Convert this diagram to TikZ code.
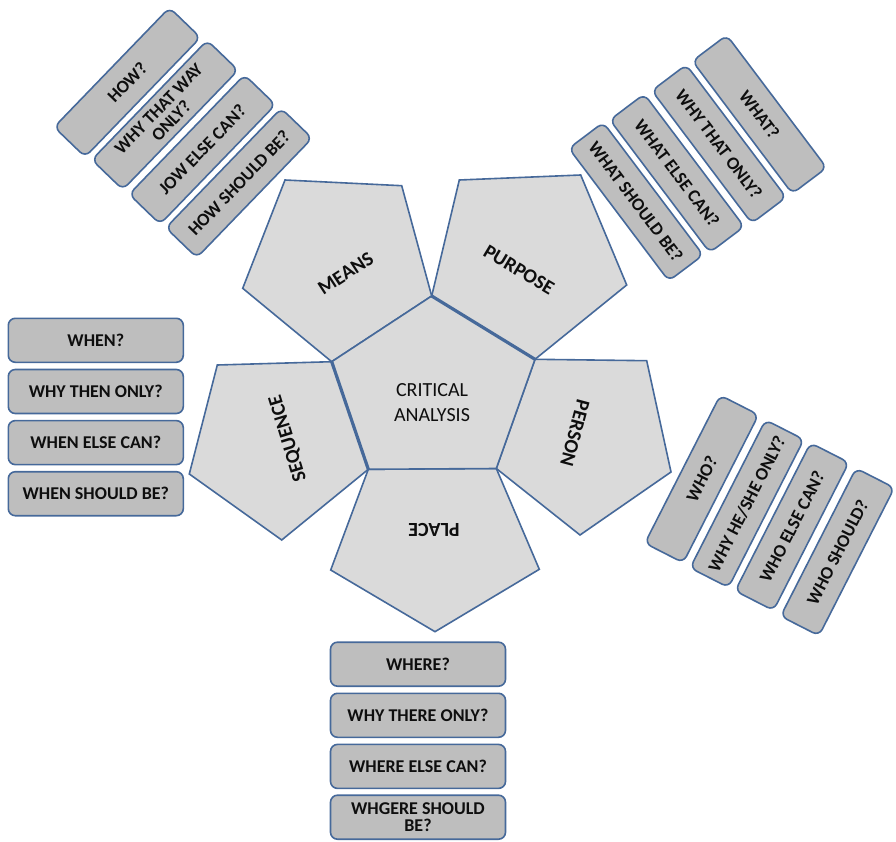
\documentclass[tikz,border=0pt]{standalone}
\usepackage{fontspec}
\setmainfont{Carlito}
\newcommand{\boxfont}{\bfseries\fontsize{18}{17.5}\selectfont}
\newcommand{\facefont}{\bfseries\fontsize{20}{22}\selectfont}
\newcommand{\corefont}{\fontsize{20}{25}\selectfont}
\definecolor{edgeblue}{HTML}{46699A}
\definecolor{boxgray}{HTML}{BEBEBE}
\definecolor{facegray}{HTML}{DADADA}
\definecolor{inkdark}{HTML}{0E0E0E}
\begin{document}
\begin{tikzpicture}[x=1pt,y=-1pt,
  face/.style={draw=edgeblue, fill=facegray, line width=1.6pt, line join=miter},
  facelabel/.style={font=\facefont, text=inkdark, inner sep=0pt},
  qbox/.style={draw=edgeblue, fill=boxgray, line width=1.6pt, rounded corners=7pt,
    inner sep=0pt, align=center, font=\boxfont, text=inkdark},
  hbox/.style={qbox, minimum width=175pt, minimum height=44pt},
  rbox/.style={qbox, minimum width=166pt, minimum height=43pt}]
\useasboundingbox (0,0) rectangle (896,842);

% corners of the central pentagon
\coordinate (c1) at (431.7,296);
\coordinate (c2) at (535,359.3);
\coordinate (c3) at (496.3,468.5);
\coordinate (c4) at (368.3,469.3);
\coordinate (c5) at (331.7,361.7);

% outer pentagons, each sharing one side with the centre
\draw[face] (c5) -- (c1) -- (401.7,185.7) -- (285,180) -- (242.7,288.3) -- cycle;
\draw[face] (c1) -- (459.3,180) -- (580.7,175) -- (626.7,285) -- (c2) -- cycle;
\draw[face] (c2) -- (646.7,360.7) -- (671,472) -- (580,535) -- (c3) -- cycle;
\draw[face] (c3) -- (539.3,569.3) -- (435,631.7) -- (330.7,570) -- (c4) -- cycle;
\draw[face] (c4) -- (281.7,540) -- (189.3,474) -- (217.3,365) -- (c5) -- cycle;
\draw[face] (c1) -- (c2) -- (c3) -- (c4) -- (c5) -- cycle;
% doubled seams
\draw[edgeblue, line width=3.2pt] (c1) -- (c2);
\draw[edgeblue, line width=3.2pt] (c4) -- (c5);

% labels on the faces
\node[font=\corefont, text=inkdark, align=center, inner sep=0pt] (core) at (432,403) {CRITICAL\\ANALYSIS};
\node[facelabel, rotate=33] (means) at (345.7,273.3) {MEANS};
\node[facelabel, rotate=-31] (purpose) at (519,270) {PURPOSE};
\node[facelabel, rotate=-105] (person) at (575,433.3) {PERSON};
\node[facelabel, rotate=180] (place) at (434,530) {PLACE};
\node[facelabel, rotate=107] (sequence) at (288.3,438.3) {SEQUENCE};

% questions about time
\node[hbox] (when1) at (95.8,340.3) {WHEN?};
\node[hbox] (when2) at (95.8,391.5) {WHY THEN ONLY?};
\node[hbox] (when3) at (95.8,442.6) {WHEN ELSE CAN?};
\node[hbox] (when4) at (95.8,493.7) {WHEN SHOULD BE?};

% questions about place
\node[hbox] (where1) at (418,664.2) {WHERE?};
\node[hbox] (where2) at (418,715.3) {WHY THERE ONLY?};
\node[hbox] (where3) at (418,766.4) {WHERE ELSE CAN?};
\node[hbox] (where4) at (418,817.2) {WHGERE SHOULD\\BE?};

% questions about means
\node[rbox, rotate=46] (how1) at (127.3,82.3) {HOW?};
\node[rbox, rotate=46] (how2) at (165,115) {WHY THAT WAY\\ONLY?};
\node[rbox, rotate=46] (how3) at (202.3,149.5) {JOW ELSE CAN?};
\node[rbox, rotate=46] (how4) at (239,183) {HOW SHOULD BE?};

% questions about purpose
\node[rbox, rotate=-53] (what1) at (759.5,114.4) {WHAT?};
\node[rbox, rotate=-53] (what2) at (719,144) {WHY THAT ONLY?};
\node[rbox, rotate=-53] (what3) at (677,173.3) {WHAT ELSE CAN?};
\node[rbox, rotate=-53] (what4) at (636,201.7) {WHAT SHOULD BE?};

% questions about person
\node[rbox, rotate=63] (who1) at (701.7,479) {WHO?};
\node[rbox, rotate=63] (who2) at (747,503.7) {WHY HE/SHE ONLY?};
\node[rbox, rotate=63] (who3) at (792,526.7) {WHO ELSE CAN?};
\node[rbox, rotate=63] (who4) at (837.5,552) {WHO SHOULD?};
\end{tikzpicture}
\end{document}
